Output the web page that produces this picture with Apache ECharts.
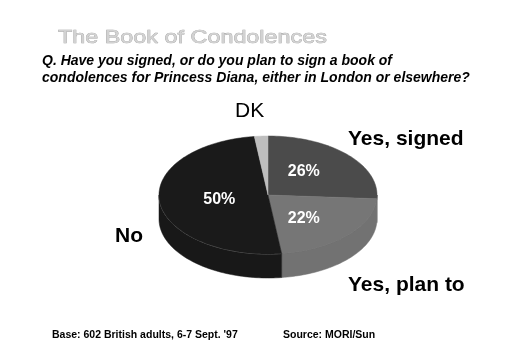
<!DOCTYPE html>
<html><head><meta charset="utf-8">
<script src="https://cdn.jsdelivr.net/npm/echarts@6/dist/echarts.min.js"></script>
<style>html,body{margin:0;padding:0;background:#fff}#c{width:512px;height:362px}</style>
</head><body><div id="c"></div>
<script>
// ---- data ----
const categories = ['Yes, signed', 'Yes, plan to', 'No', 'DK'];
const values = [26, 22, 50, 2];
const pctLabels = ['26%', '22%', '50%', ''];
const titleText = 'The Book of Condolences';
const questionLines = ['Q. Have you signed, or do you plan to sign a book of',
  'condolences for Princess Diana, either in London or elsewhere?'];
const baseText = "Base: 602 British adults, 6-7 Sept. '97";
const sourceText = 'Source: MORI/Sun';

// ---- styles / layout ----
const topColors = ['#4b4b4b', '#767676', '#1a1a1a', '#bebebe'];
const sideColors = ['#454545', '#727272', '#181818', '#a8a8a8'];
const edgeColors = ['#5a5a5a', '#6a6a6a', '#8a8a8a', '#999999'];
const geo = {cx: 268, cy: 195, rx: 109, ry: 59, depth: 24, kx: 0.45, ky: 0.58};
const FONT = 'Arial, "Liberation Sans", Helvetica, sans-serif';
const outerLabelPos = [
  {x: 348, y: 139, align: 'left', weight: 'bold'},
  {x: 348, y: 285, align: 'left', weight: 'bold'},
  {x: 115, y: 236, align: 'left', weight: 'bold'},
  {x: 235, y: 111, align: 'left', weight: 'normal'}
];

const total = values.reduce((a, b) => a + b, 0);
let acc = 0;
const sliceData = values.map((v, i) => {
  const s = acc / total * 360; acc += v;
  return {name: categories[i], value: [v, s, acc / total * 360]};
});

function pt(theta, dy) {
  const r = theta * Math.PI / 180;
  return [geo.cx + geo.rx * Math.sin(r), geo.cy - geo.ry * Math.cos(r) + (dy || 0)];
}
function arc(a, b, dy) {
  const pts = [];
  const n = Math.max(2, Math.ceil((b - a) / 1.5));
  for (let k = 0; k <= n; k++) pts.push(pt(a + (b - a) * k / n, dy));
  return pts;
}

function renderItem(params, api) {
  const i = params.dataIndex;
  const a = api.value(1), b = api.value(2);
  const children = [];
  const wa = Math.max(a, 90), wb = Math.min(b, 270);
  if (wb > wa) {
    const top = arc(wa, wb, 0);
    const bot = arc(wa, wb, geo.depth).reverse();
    children.push({type: 'polygon', shape: {points: top.concat(bot)},
      style: {fill: sideColors[i], stroke: sideColors[i], lineWidth: 0.5}});
    children.push({type: 'polyline', shape: {points: top},
      style: {stroke: edgeColors[i], lineWidth: 0.8, fill: null}});
  }
  children.push({type: 'polygon', shape: {points: [[geo.cx, geo.cy]].concat(arc(a, b, 0))},
    style: {fill: topColors[i], stroke: topColors[i], lineWidth: 0.5}});
  const mid = (a + b) / 2 * Math.PI / 180;
  if (pctLabels[i]) {
    children.push({type: 'text', x: geo.cx + geo.rx * geo.kx * Math.sin(mid),
      y: geo.cy - geo.ry * geo.ky * Math.cos(mid),
      style: {text: pctLabels[i], fill: '#ffffff', font: 'bold 16px ' + FONT,
        align: 'center', verticalAlign: 'middle'}});
  }
  const p = outerLabelPos[i];
  children.push({type: 'text', x: p.x, y: p.y,
    style: {text: categories[i], fill: '#000', font: p.weight + ' 21px ' + FONT,
      align: p.align, verticalAlign: 'middle'}});
  return {type: 'group', children: children};
}

const chart = echarts.init(document.getElementById('c'), null, {renderer: 'canvas'});
chart.setOption({
  backgroundColor: '#ffffff',
  animation: false,
  graphic: [
    {type: 'text', x: 58, y: 38, scaleX: 1.23, originX: 0, originY: 0,
      style: {text: titleText, fill: '#d2d2d2', stroke: '#9a9a9a', lineWidth: 0.6,
        font: '19px ' + FONT, align: 'left', verticalAlign: 'middle'}},
    {type: 'text', x: 42, y: 61,
      style: {text: questionLines[0], fill: '#000', font: 'italic bold 14px ' + FONT,
        align: 'left', verticalAlign: 'middle'}},
    {type: 'text', x: 42, y: 78,
      style: {text: questionLines[1], fill: '#000', font: 'italic bold 14px ' + FONT,
        align: 'left', verticalAlign: 'middle'}},
    {type: 'text', x: 52, y: 335,
      style: {text: baseText, fill: '#000', font: 'bold 10.5px ' + FONT,
        align: 'left', verticalAlign: 'middle'}},
    {type: 'text', x: 283, y: 335,
      style: {text: sourceText, fill: '#000', font: 'bold 10.5px ' + FONT,
        align: 'left', verticalAlign: 'middle'}}
  ],
  series: [{
    type: 'custom',
    coordinateSystem: 'none',
    renderItem: renderItem,
    data: sliceData
  }]
});
</script></body></html>
